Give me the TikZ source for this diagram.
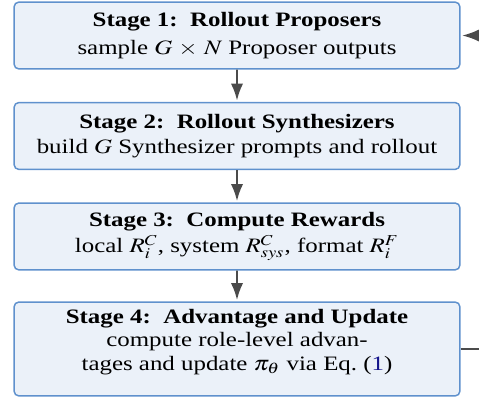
\documentclass[tikz,border=0pt]{standalone}
\usepackage{amsmath}
\usepackage{mathptmx}
\usepackage{fontspec}
\setmainfont{Liberation Serif}
\usepackage{tikz}
\usetikzlibrary{arrows.meta, positioning}

\definecolor{stagefill}{RGB}{235,241,249}
\definecolor{stageline}{RGB}{95,145,205}
\definecolor{flowgray}{RGB}{75,75,75}
\definecolor{refblue}{RGB}{20,20,140}

\begin{document}
\begin{tikzpicture}[node distance=47.6pt, xscale=1.216, every node/.append style={transform shape}]
        % Define block styles
        \tikzstyle{stagebox} = [rectangle, rounded corners=2.3pt, minimum width=173.7pt, minimum height=31.7pt, text centered, align=center, draw=stageline, line width=0.7pt, fill=stagefill, font=\fontsize{9.7}{11.1}\selectfont]
        \tikzstyle{arrow} = [line width=0.9pt, draw=flowgray, -{Latex[length=8pt,width=5.8pt]}, shorten >=0.6pt]

        \useasboundingbox (-92.33pt,16.82pt) rectangle (94.28pt,-171.7pt);

        % Nodes
        \node (propose) [stagebox] at (0,0) {\textbf{Stage 1:\enspace Rollout Proposers}\\[1.8pt]sample $G$ $\times$ $N$ Proposer outputs};
        \node (synth) [stagebox, below of=propose] {\textbf{Stage 2:\enspace Rollout Synthesizers}\\[1.1pt]build $G$ Synthesizer prompts and rollout};
        \node (reward) [stagebox, below of=synth] {\textbf{Stage 3:\enspace Compute Rewards}\\[1.2pt]local $R_i^C$, system $R_{sys}^C$, format $R_i^F$};
        \node (update) [stagebox, below of=reward, yshift=-5.7pt, minimum height=43.1pt] {\textbf{Stage 4:\enspace Advantage and Update}\\compute role-level advan-\\tages and update $\pi_\theta$ via Eq.~(\textcolor{refblue}{1})\\[-2.2pt]\mbox{}};

        % Arrows
        \draw [arrow] (propose) -- (synth);
        \draw [arrow] (synth) -- (reward);
        \draw [arrow] (reward) -- (update);

        % The Feedback Loop
        \draw [arrow] (update.east) -- ++(15pt,0) |- (propose.east);
    \end{tikzpicture}
\end{document}
